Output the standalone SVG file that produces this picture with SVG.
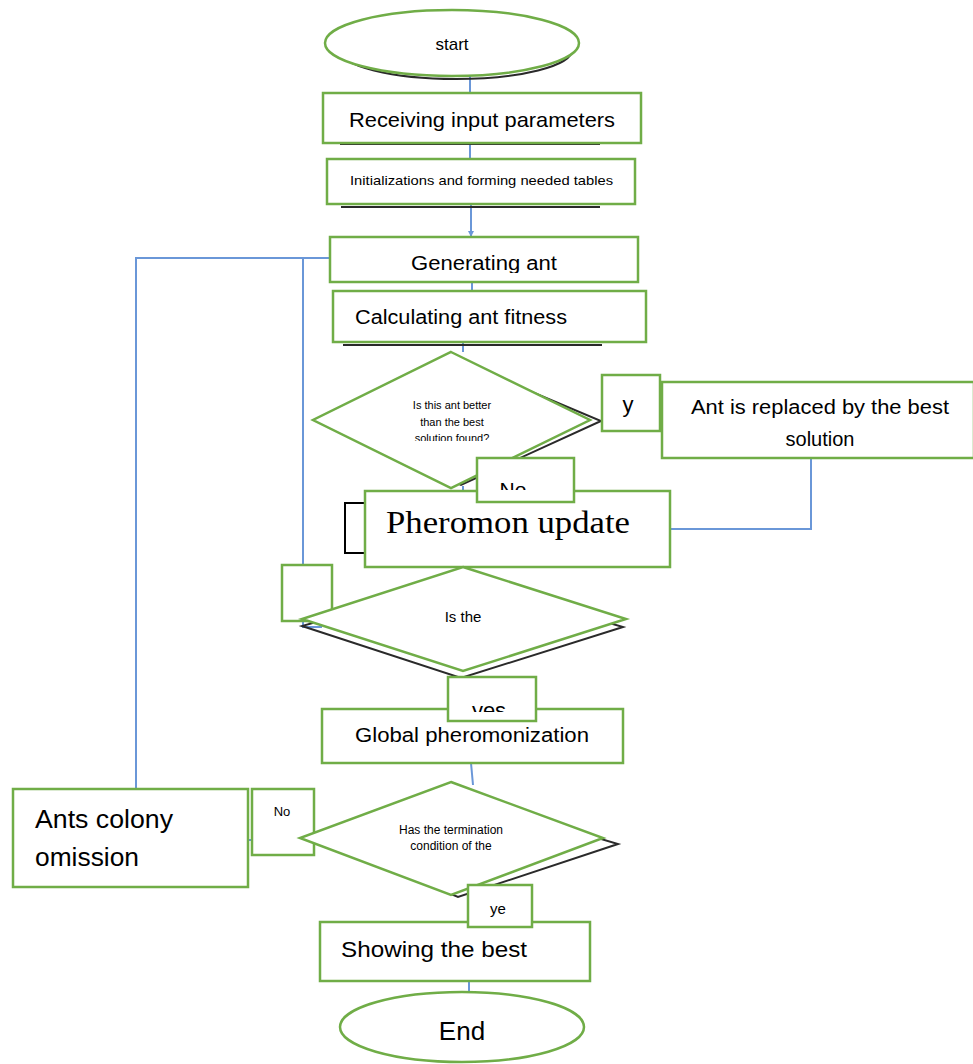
<svg xmlns="http://www.w3.org/2000/svg" width="973" height="1064" viewBox="0 0 973 1064">
<style>
.box{fill:#fff;stroke:#70AD47;stroke-width:2.5}
.conn{fill:none;stroke:#6A97D8;stroke-width:2}
.sh{fill:none;stroke:#2a2a2a;stroke-width:2}
.t{font-family:"Liberation Sans",Arial,sans-serif;fill:#000}
.tm{font-family:"Liberation Serif","Times New Roman",serif;fill:#000}
</style>
<defs>
<marker id="arr" markerWidth="6" markerHeight="6" refX="5" refY="3" orient="auto" markerUnits="userSpaceOnUse">
<path d="M0,0 L6,3 L0,6 z" fill="#6A97D8"/>
</marker>
<clipPath id="cGen"><rect x="330" y="237" width="310" height="36"/></clipPath>
<clipPath id="cD1"><rect x="300" y="340" width="300" height="101"/></clipPath>
<clipPath id="cNo"><rect x="477" y="458" width="97" height="32"/></clipPath>
<clipPath id="cYes"><rect x="448" y="677" width="88" height="35"/></clipPath>
</defs>

<g id="connectors">
<line class="conn" x1="470" y1="70" x2="470" y2="93"/>
<line class="conn" x1="470" y1="143" x2="470" y2="159"/>
<line class="conn" x1="471" y1="204" x2="471" y2="236" marker-end="url(#arr)"/>
<line class="conn" x1="472" y1="282" x2="472" y2="291"/>
<line class="conn" x1="463" y1="342" x2="463" y2="352"/>
<line class="conn" x1="463" y1="486" x2="463" y2="491"/>
<polyline class="conn" points="811,458 811,529 670,529"/>
<line class="conn" x1="471" y1="763" x2="473" y2="785"/>
<line class="conn" x1="469" y1="981" x2="469" y2="993"/>
<polyline class="conn" points="136,789 136,258 330,258"/>
<polyline class="conn" points="303,258 303,627 322,627"/>
<line class="conn" x1="248" y1="840" x2="252" y2="840"/>
</g>

<g id="start">
<ellipse class="sh" cx="456" cy="50" rx="116" ry="29"/>
<ellipse class="box" cx="452" cy="43" rx="127" ry="33"/>
<text class="t" x="452" y="50" font-size="17" text-anchor="middle">start</text>
</g>

<g id="receiving">
<line class="sh" x1="340" y1="144" x2="600" y2="144"/>
<rect class="box" x="323" y="93" width="318" height="50"/>
<text class="t" x="349" y="127" font-size="21" textLength="266" lengthAdjust="spacingAndGlyphs">Receiving input parameters</text>
</g>

<g id="init">
<line class="sh" x1="341" y1="207" x2="600" y2="207"/>
<rect class="box" x="327" y="159" width="308" height="45"/>
<text class="t" x="350" y="185" font-size="13" textLength="263" lengthAdjust="spacingAndGlyphs">Initializations and forming needed tables</text>
</g>

<g id="generating">
<rect class="box" x="330" y="237" width="308" height="45"/>
<text class="t" x="411" y="270" font-size="20" textLength="146" lengthAdjust="spacingAndGlyphs" clip-path="url(#cGen)">Generating ant</text>
</g>

<g id="fitness">
<line class="sh" x1="343" y1="345" x2="602" y2="345"/>
<rect class="box" x="333" y="291" width="313" height="51"/>
<text class="t" x="355" y="324" font-size="20" textLength="212" lengthAdjust="spacingAndGlyphs">Calculating ant fitness</text>
</g>

<g id="decision1">
<polygon class="sh" points="470,366 601,421 461,485 330,420"/>
<polygon class="box" points="451,352 590,420 451,488 313,420"/>
<g clip-path="url(#cD1)">
<text class="t" x="452" y="409" font-size="11" text-anchor="middle">Is this ant better</text>
<text class="t" x="452" y="426" font-size="11" text-anchor="middle">than the best</text>
<text class="t" x="452" y="442" font-size="11" text-anchor="middle">solution found?</text>
</g>
</g>

<g id="label-y">
<rect class="box" x="602" y="375" width="58" height="56"/>
<text class="t" x="628" y="412" font-size="22" text-anchor="middle">y</text>
</g>

<g id="replaced">
<rect class="box" x="662" y="382" width="312" height="76"/>
<text class="t" x="820" y="414" font-size="20" text-anchor="middle" textLength="258" lengthAdjust="spacingAndGlyphs">Ant is replaced by the best</text>
<text class="t" x="820" y="446" font-size="20" text-anchor="middle">solution</text>
</g>

<g id="pheromon">
<rect x="345" y="503" width="100" height="50" fill="#fff" stroke="#000" stroke-width="2"/>
<rect class="box" x="365" y="491" width="305" height="76"/>
<text class="tm" x="386" y="533" font-size="32" textLength="244" lengthAdjust="spacingAndGlyphs">Pheromon update</text>
</g>

<g id="label-no1">
<rect class="box" x="477" y="458" width="97" height="44"/>
<text class="t" x="513" y="497" font-size="21" text-anchor="middle" clip-path="url(#cNo)">No</text>
</g>

<g id="label-blank">
<rect class="box" x="282" y="565" width="50" height="56"/>
</g>

<g id="decision2">
<polygon class="sh" points="463,580 623,627 461,678 302,626"/>
<polygon class="box" points="463,567 626,619 463,671 302,619"/>
<text class="t" x="463" y="622" font-size="15" text-anchor="middle">Is the</text>
</g>

<g id="global">
<rect class="box" x="322" y="709" width="301" height="54"/>
<text class="t" x="355" y="742" font-size="20" textLength="234" lengthAdjust="spacingAndGlyphs">Global pheromonization</text>
</g>

<g id="label-yes">
<rect class="box" x="448" y="677" width="88" height="44"/>
<text class="t" x="489" y="718" font-size="22" text-anchor="middle" clip-path="url(#cYes)">yes</text>
</g>

<g id="omission">
<rect class="box" x="13" y="789" width="235" height="98"/>
<text class="t" x="35" y="828" font-size="25" textLength="138" lengthAdjust="spacingAndGlyphs">Ants colony</text>
<text class="t" x="35" y="866" font-size="25" textLength="104" lengthAdjust="spacingAndGlyphs">omission</text>
</g>

<g id="label-no2">
<rect class="box" x="252" y="789" width="62" height="66"/>
<text class="t" x="282" y="816" font-size="13" text-anchor="middle">No</text>
</g>

<g id="decision3">
<polygon class="sh" points="470,800 618,844 458,897 320,840"/>
<polygon class="box" points="451,782 603,838 451,895 300,838"/>
<text class="t" x="451" y="834" font-size="12" text-anchor="middle">Has the termination</text>
<text class="t" x="451" y="850" font-size="12" text-anchor="middle">condition of the</text>
</g>

<g id="showing">
<rect class="box" x="320" y="922" width="270" height="59"/>
<text class="t" x="341" y="957" font-size="22" textLength="186" lengthAdjust="spacingAndGlyphs">Showing the best</text>
</g>

<g id="label-ye">
<rect class="box" x="468" y="885" width="64" height="42"/>
<text class="t" x="498" y="914" font-size="15" text-anchor="middle">ye</text>
</g>

<g id="end">
<ellipse class="box" cx="462" cy="1027" rx="122" ry="35"/>
<text class="t" x="462" y="1040" font-size="26" text-anchor="middle">End</text>
</g>
</svg>
